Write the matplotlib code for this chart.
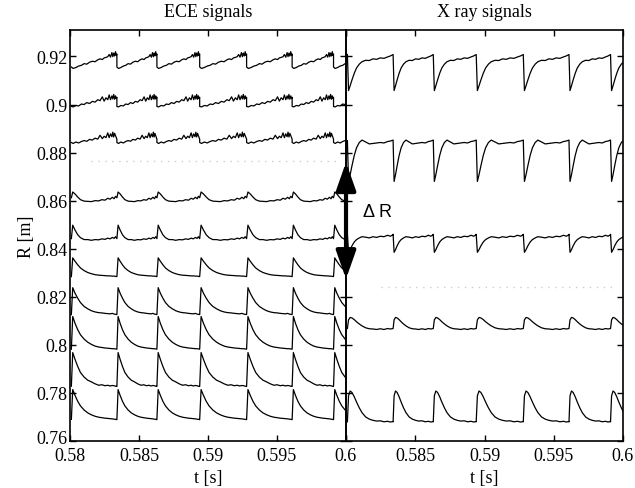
import numpy as np
import matplotlib
matplotlib.use("Agg")
import matplotlib.pyplot as plt
import matplotlib.transforms as mtransforms
from matplotlib.patches import FancyArrowPatch

plt.rcParams["font.family"] = ["Liberation Serif", "DejaVu Serif"]

# ---------------- DATA ----------------

# sawtooth crash times [s], same for both panels
crash_times = [0.5801, 0.5834, 0.5863, 0.5894, 0.5928, 0.5961, 0.5991]
last_period = 0.0030

# phase grids inside one sawtooth period (0 = crash, 1 = next crash)
ramp_phase = [0, 0.04, 0.1, 0.16, 0.22, 0.28, 0.34, 0.4, 0.46, 0.52, 0.58, 0.63, 0.68,
              0.72, 0.76, 0.8, 0.83, 0.86, 0.89, 0.91, 0.93, 0.95, 0.97, 0.985, 1.0]
peak_phase = [0, 0.03, 0.08, 0.14, 0.2, 0.28, 0.36, 0.44, 0.52, 0.6, 0.67, 0.74, 0.8,
              0.85, 0.9, 0.94, 0.97, 1.0]
xray_phase = [0, 0.025, 0.06, 0.1, 0.15, 0.2, 0.26, 0.32, 0.4, 0.48, 0.56, 0.64, 0.72,
              0.8, 0.88, 0.94, 1.0]

# ECE channels, R [m] over one period
ece_092 = [0.9156, 0.9150, 0.9154, 0.9160, 0.9163, 0.9170, 0.9168, 0.9176, 0.9180, 0.9178,
           0.9186, 0.9190, 0.9187, 0.9194, 0.9196, 0.9199, 0.9208, 0.9197, 0.9216, 0.9199,
           0.9214, 0.9202, 0.9220, 0.9204, 0.9210]
ece_090 = [0.8992, 0.8990, 0.8996, 0.8994, 0.9002, 0.9000, 0.9008, 0.9004, 0.9013, 0.9010,
           0.9020, 0.9016, 0.9032, 0.9014, 0.9028, 0.9020, 0.9040, 0.9020, 0.9036, 0.9023,
           0.9042, 0.9022, 0.9036, 0.9025, 0.9030]
ece_088 = [0.8842, 0.8838, 0.8844, 0.8840, 0.8846, 0.8850, 0.8847, 0.8855, 0.8852, 0.8860,
           0.8856, 0.8872, 0.8858, 0.8868, 0.8862, 0.8882, 0.8862, 0.8878, 0.8866, 0.8885,
           0.8865, 0.8880, 0.8870, 0.8862, 0.8856]
ece_086 = [0.8612, 0.8636, 0.8628, 0.8615, 0.8604, 0.8598, 0.8597, 0.8596, 0.8600, 0.8599,
           0.8604, 0.8602, 0.8610, 0.8606, 0.8614, 0.8608, 0.8618, 0.8612]
ece_084 = [0.8442, 0.8498, 0.8478, 0.8458, 0.8446, 0.8438, 0.8438, 0.8435, 0.8438, 0.8437,
           0.8441, 0.8439, 0.8444, 0.8441, 0.8447, 0.8443, 0.8450, 0.8442]
ece_083 = [0.8284, 0.8362, 0.8348, 0.8333, 0.8320, 0.8309, 0.8301, 0.8296, 0.8292, 0.8290,
           0.8289, 0.8288, 0.8287, 0.8287, 0.8286, 0.8286, 0.8285, 0.8284]
ece_081 = [0.8126, 0.8238, 0.8215, 0.8194, 0.8176, 0.8160, 0.8150, 0.8142, 0.8137, 0.8134,
           0.8133, 0.8131, 0.8130, 0.8129, 0.8131, 0.8128, 0.8127, 0.8126]
ece_080 = [0.7982, 0.8118, 0.8090, 0.8063, 0.8042, 0.8024, 0.8011, 0.8002, 0.7995, 0.7991,
           0.7989, 0.7987, 0.7986, 0.7985, 0.7984, 0.7984, 0.7983, 0.7982]
ece_078 = [0.7828, 0.7968, 0.7940, 0.7910, 0.7885, 0.7866, 0.7853, 0.7846, 0.7838, 0.7832,
           0.7834, 0.7830, 0.7832, 0.7829, 0.7831, 0.7830, 0.7828, 0.7827]
ece_077 = [0.7690, 0.7814, 0.7790, 0.7765, 0.7746, 0.7729, 0.7717, 0.7709, 0.7703, 0.7699,
           0.7697, 0.7695, 0.7694, 0.7693, 0.7692, 0.7691, 0.7690, 0.7689]

# X ray channels
xray_092 = [0.9208, 0.9058, 0.9078, 0.9102, 0.9130, 0.9152, 0.9168, 0.9178, 0.9184, 0.9183,
            0.9190, 0.9188, 0.9194, 0.9192, 0.9198, 0.9202, 0.9208]
xray_088 = [0.8850, 0.8680, 0.8708, 0.8745, 0.8788, 0.8820, 0.8842, 0.8852, 0.8844, 0.8836,
            0.8838, 0.8840, 0.8842, 0.8840, 0.8846, 0.8848, 0.8852]
xray_084 = [0.8460, 0.8385, 0.8396, 0.8412, 0.8428, 0.8438, 0.8445, 0.8450, 0.8448, 0.8445,
            0.8450, 0.8447, 0.8452, 0.8450, 0.8456, 0.8452, 0.8458]
xray_081 = [0.8068, 0.8104, 0.8114, 0.8112, 0.8105, 0.8096, 0.8087, 0.8079, 0.8071, 0.8067,
            0.8066, 0.8064, 0.8067, 0.8064, 0.8068, 0.8066, 0.8068]
xray_077 = [0.7680, 0.7788, 0.7808, 0.7802, 0.7784, 0.7762, 0.7738, 0.7718, 0.7700, 0.7691,
            0.7686, 0.7683, 0.7684, 0.7680, 0.7682, 0.7679, 0.7681]

# faint (washed-out) channels: level and time span
faint_ece = [0.8764, 0.5815, 0.5995]
faint_xray = [0.8240, 0.5825, 0.5995]

# Delta R arrow ends
delta_r = [0.8274, 0.8760]

y_ticks = [0.76, 0.78, 0.80, 0.82, 0.84, 0.86, 0.88, 0.90, 0.92]
y_labels = ["0.76", "0.78", "0.8", "0.82", "0.84", "0.86", "0.88", "0.9", "0.92"]
x_ticks = [0.58, 0.585, 0.59, 0.595, 0.6]
x_labels = ["0.58", "0.585", "0.59", "0.595", "0.6"]


def build(profile, phase):
    ends = crash_times[1:] + [crash_times[-1] + last_period]
    ts, vs = [], []
    for t0, t1 in zip(crash_times, ends):
        ts += [t0 + p * (t1 - t0) for p in phase]
        vs += profile
    return ts, vs


def style(ax):
    ax.set_xlim(0.58, 0.6)
    ax.set_ylim(0.76, 0.931)
    ax.set_yticks(y_ticks)
    ax.set_xticks(x_ticks)
    ax.tick_params(direction="in", length=4, width=1, top=True, right=True,
                   labelsize=13)
    ax.tick_params(axis="y", pad=2)
    ax.tick_params(axis="x", pad=4)
    for s in ax.spines.values():
        s.set_linewidth(1.2)


fig = plt.figure(figsize=(6.35, 4.89), dpi=100)
ax1 = fig.add_axes([0.1102, 0.0961, 0.4346, 0.8405])
ax2 = fig.add_axes([0.5449, 0.0961, 0.4362, 0.8405])
ax2.set_facecolor("none")

for prof in [ece_092, ece_090, ece_088]:
    ax1.plot(*build(prof, ramp_phase), color="black", lw=0.9)
for prof in [ece_086, ece_084, ece_083, ece_081, ece_080, ece_078, ece_077]:
    ax1.plot(*build(prof, peak_phase), color="black", lw=0.9)
ax1.plot(faint_ece[1:], [faint_ece[0]] * 2, color="#cccccc", lw=1, ls=(0, (1, 4)))

for prof in [xray_092, xray_088, xray_084, xray_081, xray_077]:
    ax2.plot(*build(prof, xray_phase), color="black", lw=0.9)
ax2.plot(faint_xray[1:], [faint_xray[0]] * 2, color="#cccccc", lw=1, ls=(0, (1, 4)))

style(ax1)
style(ax2)
ax1.set_yticklabels(y_labels)
ax1.set_xticklabels(x_labels)
ax2.set_yticklabels([])
ax2.set_xticklabels([""] + x_labels[1:])

# lift the bottom y label a little so it does not sit on "0.58"
lab = ax1.get_yticklabels()[0]
lab.set_transform(lab.get_transform()
                  + mtransforms.ScaledTranslation(0, 3 / 72, fig.dpi_scale_trans))

ax1.set_title("ECE signals", fontsize=13, pad=10)
ax2.set_title("X ray signals", fontsize=13, pad=10)
ax1.set_xlabel("t [s]", fontsize=13, labelpad=4)
ax2.set_xlabel("t [s]", fontsize=13, labelpad=4)
ax1.set_ylabel("R [m]", fontsize=13, labelpad=1)

arrow = FancyArrowPatch((0.58, delta_r[0]), (0.58, delta_r[1]),
                        arrowstyle="<|-|>,head_length=1.7,head_width=0.6",
                        mutation_scale=10, lw=3, color="black",
                        shrinkA=0, shrinkB=0, clip_on=False)
ax2.add_patch(arrow)
ax2.text(0.5812, 0.8556, "\u0394 R", fontsize=13, va="center", ha="left",
         family=["Liberation Sans", "DejaVu Sans"])

fig.savefig("out.png", dpi=100)
